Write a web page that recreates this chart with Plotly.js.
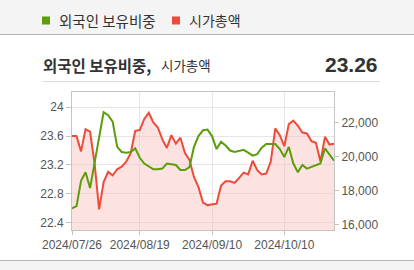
<!DOCTYPE html>
<html>
<head>
<meta charset="utf-8">
<script src="https://cdn.plot.ly/plotly-3.0.1.min.js"></script>
<style>
html,body{margin:0;padding:0;background:#fff;}
#chart{width:414px;height:270px;}
</style>
</head>
<body>
<div id="chart"></div>
<script>
// Trading days (category axis)
const dates = ["2024/07/26","2024/07/29","2024/07/30","2024/07/31","2024/08/01","2024/08/02","2024/08/05","2024/08/06","2024/08/07","2024/08/08","2024/08/09","2024/08/12","2024/08/13","2024/08/14","2024/08/16","2024/08/19","2024/08/20","2024/08/21","2024/08/22","2024/08/23","2024/08/26","2024/08/27","2024/08/28","2024/08/29","2024/08/30","2024/09/02","2024/09/03","2024/09/04","2024/09/05","2024/09/06","2024/09/09","2024/09/10","2024/09/11","2024/09/12","2024/09/13","2024/09/19","2024/09/20","2024/09/23","2024/09/24","2024/09/25","2024/09/26","2024/09/27","2024/09/30","2024/10/02","2024/10/04","2024/10/07","2024/10/08","2024/10/10","2024/10/11","2024/10/14","2024/10/15","2024/10/16","2024/10/17","2024/10/18","2024/10/21","2024/10/22","2024/10/23","2024/10/24","2024/10/25"];

// 외국인 보유비중 (%), left axis
const foreignRatio = [22.60,22.63,22.98,23.10,22.88,23.24,23.60,23.93,23.89,23.80,23.45,23.38,23.37,23.38,23.43,23.30,23.22,23.18,23.14,23.14,23.15,23.22,23.21,23.20,23.13,23.13,23.17,23.45,23.60,23.68,23.69,23.60,23.42,23.52,23.47,23.40,23.38,23.39,23.41,23.37,23.33,23.35,23.44,23.49,23.49,23.49,23.42,23.31,23.45,23.22,23.10,23.20,23.15,23.17,23.20,23.22,23.43,23.34,23.26];

// 시가총액, right axis
const marketCap = [21200,21200,20300,21600,21450,19600,16900,18500,19100,18900,19250,19400,19700,20200,21500,21550,22200,22560,22000,21700,21000,20500,21250,20750,21100,20200,19800,18800,18200,17300,17150,17200,17230,18300,18550,18550,18450,18750,19050,18950,19750,19200,18950,19000,19700,21650,21250,20600,21900,22100,21800,21400,21350,20900,20800,19700,21150,20700,20750];

const xTicks = ["2024/07/26","2024/08/19","2024/09/10","2024/10/10"];
const leftTicks = [22.4,22.8,23.2,23.6,24];
const leftTickText = ["22.4","22.8","23.2","23.6","24"];
const rightTicks = [16000,18000,20000,22000];
const rightTickText = ["16,000","18,000","20,000","22,000"];

const seriesNames = ["외국인 보유비중","시가총액"];
const lastValue = "23.26";

// pixel -> paper helpers (plot area: x 72..334, y 92..230)
const L=72, R=334, T=92, B=230;
const px = x => (x-L)/(R-L);
const py = y => (B-y)/(B-T);

const GREEN="#5a9e0a", RED="#ee4b3b";
const tickFont={family:"Liberation Sans, Arial, sans-serif", size:12, color:"#555"};
const kfont="Noto Sans CJK KR, sans-serif";

// market cap on base axis (right side), foreign ratio on overlay axis (left side) so it is drawn on top
const traces=[
  {x:dates, y:marketCap, yaxis:"y", type:"scatter", mode:"lines", name:seriesNames[1],
   line:{color:RED,width:2}, fill:"tozeroy", fillcolor:"rgba(248,190,186,0.45)"},
  {x:dates, y:foreignRatio, yaxis:"y2", type:"scatter", mode:"lines", name:seriesNames[0],
   line:{color:GREEN,width:2}}
];

const shapes=[
  {type:"rect",xref:"paper",yref:"paper",x0:px(0),x1:px(414),y0:py(0),y1:py(34),fillcolor:"#f4f4f4",line:{width:0},layer:"below"},
  {type:"line",xref:"paper",yref:"paper",x0:px(0),x1:px(414),y0:py(34.5),y1:py(34.5),line:{color:"#b4b4b4",width:1}},
  {type:"rect",xref:"paper",yref:"paper",x0:px(0),x1:px(414),y0:py(260),y1:py(270),fillcolor:"#f4f4f4",line:{width:0},layer:"below"},
  {type:"line",xref:"paper",yref:"paper",x0:px(0),x1:px(414),y0:py(260.5),y1:py(260.5),line:{color:"#b4b4b4",width:1}},
  {type:"line",xref:"paper",yref:"paper",x0:px(42),x1:px(380),y0:py(81.5),y1:py(81.5),line:{color:"#dcdcdc",width:1}},
  {type:"rect",xref:"paper",yref:"paper",x0:px(42),x1:px(50),y0:py(16.5),y1:py(24.5),fillcolor:GREEN,line:{width:0}},
  {type:"rect",xref:"paper",yref:"paper",x0:px(172),x1:px(180),y0:py(16.5),y1:py(24.5),fillcolor:RED,line:{width:0}}
];

const annotations=[
  {xref:"paper",yref:"paper",x:px(57),y:py(20.5),xanchor:"left",yanchor:"middle",showarrow:false,
   text:seriesNames[0],font:{family:kfont,size:14.5,color:"#333"}},
  {xref:"paper",yref:"paper",x:px(187),y:py(20.5),xanchor:"left",yanchor:"middle",showarrow:false,
   text:seriesNames[1],font:{family:kfont,size:14,color:"#333"}},
  {xref:"paper",yref:"paper",x:px(41),y:py(64.5),xanchor:"left",yanchor:"middle",showarrow:false,
   text:"<b>"+seriesNames[0]+",</b>",font:{family:kfont,size:15.5,color:"#333"}},
  {xref:"paper",yref:"paper",x:px(159),y:py(64.5),xanchor:"left",yanchor:"middle",showarrow:false,
   text:seriesNames[1],font:{family:kfont,size:13.5,color:"#333"}},
  {xref:"paper",yref:"paper",x:px(380),y:py(64.5),xanchor:"right",yanchor:"middle",showarrow:false,
   text:"<b>"+lastValue+"</b>",font:{family:"Liberation Sans, Arial, sans-serif",size:21,color:"#333"}}
];

const layout={
  width:414,height:270,
  margin:{l:L,r:414-R,t:T,b:270-B,pad:0},
  paper_bgcolor:"#fff",plot_bgcolor:"rgba(0,0,0,0)",
  showlegend:false,
  xaxis:{type:"category",categoryorder:"array",categoryarray:dates,range:[0,dates.length-1],
    tickmode:"array",tickvals:xTicks,ticktext:xTicks,tickangle:0,
    showgrid:true,gridcolor:"#e6e6e6",gridwidth:1,
    showline:true,linecolor:"#c4c4c4",linewidth:1,mirror:true,
    ticks:"outside",ticklen:4,tickcolor:"#c4c4c4",tickfont:tickFont,zeroline:false,fixedrange:true},
  yaxis:{range:[15690,23780],side:"right",tickmode:"array",tickvals:rightTicks,ticktext:rightTickText,
    showgrid:false,showline:true,linecolor:"#c4c4c4",linewidth:1,mirror:true,
    ticks:"outside",ticklen:4,tickcolor:"#c4c4c4",tickfont:tickFont,zeroline:false},
  yaxis2:{range:[22.3,24.21],overlaying:"y",side:"left",tickmode:"array",tickvals:leftTicks,ticktext:leftTickText,
    showgrid:true,gridcolor:"rgba(200,200,200,0.45)",gridwidth:1,
    showline:false,ticks:"outside",ticklen:5,tickcolor:"#c4c4c4",tickfont:tickFont,zeroline:false},
  shapes:shapes,annotations:annotations
};

Plotly.newPlot("chart",traces,layout,{displayModeBar:false,staticPlot:true});
</script>
</body>
</html>
